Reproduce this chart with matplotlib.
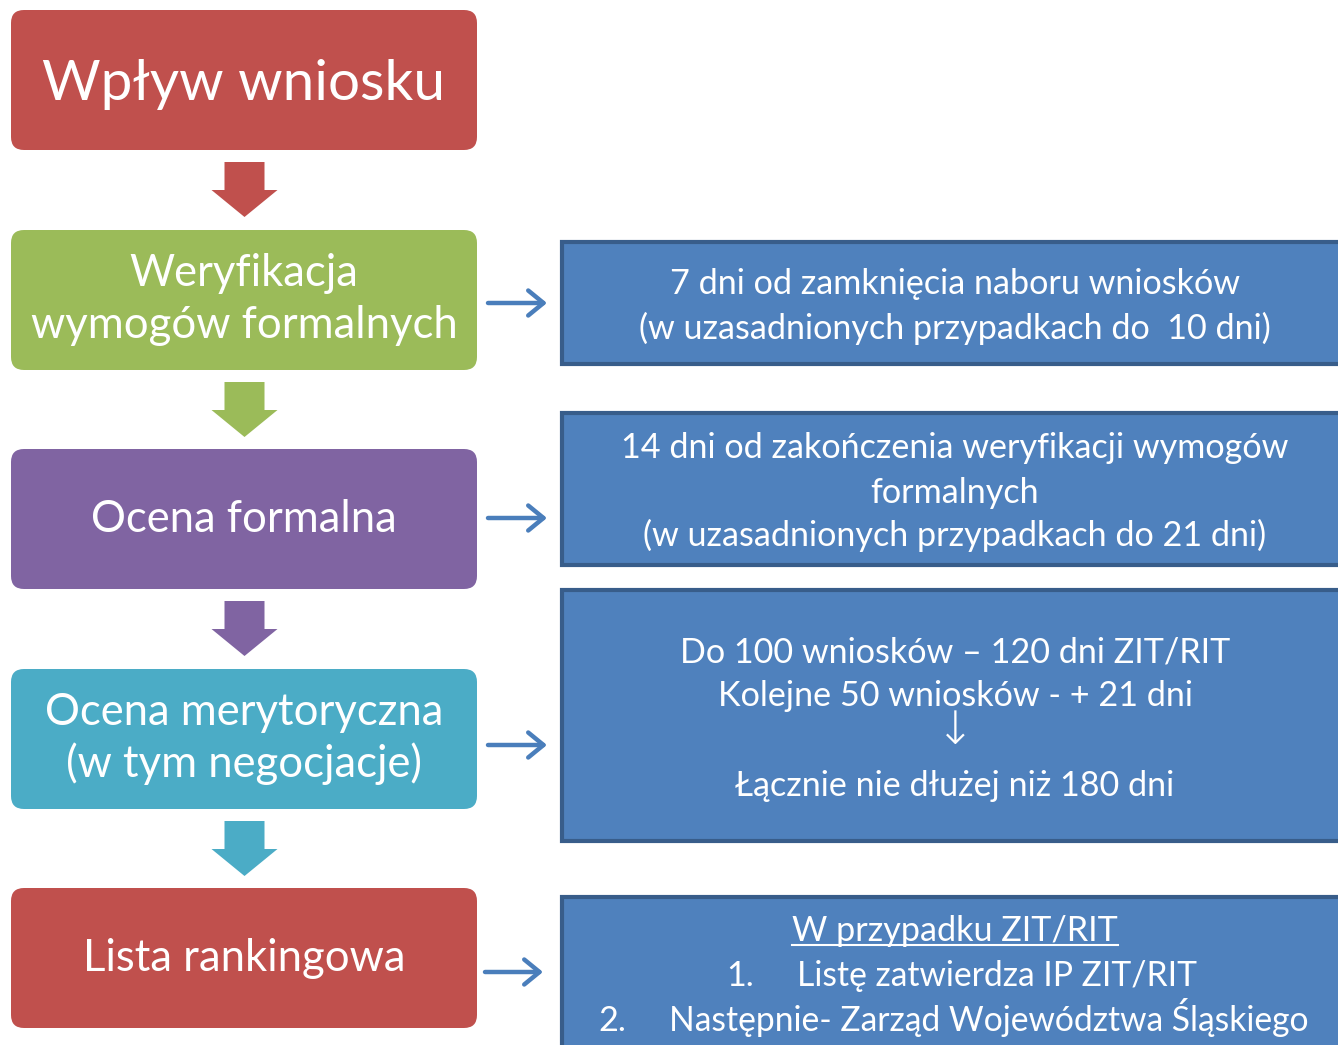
import matplotlib
matplotlib.use("Agg")
import matplotlib.pyplot as plt
from matplotlib.patches import FancyBboxPatch, Rectangle, Polygon, FancyArrowPatch
import numpy as np

plt.rcParams['font.family'] = ['Lato', 'DejaVu Sans']

# ---- content ----
step_labels = [["Wpływ wniosku"],
               ["Weryfikacja", "wymogów formalnych"],
               ["Ocena formalna"],
               ["Ocena merytoryczna", "(w tym negocjacje)"],
               ["Lista rankingowa"]]
step_colors = ["#C0504D", "#9BBB59", "#8064A2", "#4BACC6", "#C0504D"]

note_lines = [["7 dni od zamknięcia naboru wniosków",
               "(w uzasadnionych przypadkach do  10 dni)"],
              ["14 dni od zakończenia weryfikacji wymogów",
               "formalnych",
               "(w uzasadnionych przypadkach do 21 dni)"],
              ["Do 100 wniosków – 120 dni ZIT/RIT",
               "Kolejne 50 wniosków - + 21 dni",
               "↓",
               "Łącznie nie dłużej niż 180 dni"]]
list_title = "W przypadku ZIT/RIT"
list_nums = ["1.", "2."]
list_items = ["Listę zatwierdza IP ZIT/RIT", "Następnie- Zarząd Województwa Śląskiego"]

# ---- layout (pixels) ----
W, H = 1338, 1045
step_x0, step_x1 = 11, 477
step_tops = [10, 230, 449, 669, 888]
step_h = 140
step_baselines = [[100], [286, 338], [532], [725, 777], [971]]
step_widths = [[403], [226, 427], [308], [400, 367], [321]]

arrow_tops = [162, 382, 601, 821]
note_x0 = 562
note_boxes = [(242, 364), (413, 565), (590, 841), (897, 1060)]
note_baselines = [[294, 339], [458, 503, 546], [662, 706, 741, 796]]
note_widths = [[575, 637], [668, 169, 629], [529, 466, None, 437]]
note_cx = 955
side_arrow_y = [303, 518, 745, 972]
side_arrow_x = [(488, 547), (488, 547), (488, 547), (485, 543)]

fig = plt.figure(figsize=(W / 100, H / 100), dpi=100)
ax = fig.add_axes([0, 0, 1, 1])
ax.set_xlim(0, W)
ax.set_ylim(H, 0)
ax.axis('off')
renderer = fig.canvas.get_renderer()


def size_for(s, width, base=30):
    t = ax.text(0, 0, s, fontsize=base)
    w = t.get_window_extent(renderer).width
    t.remove()
    return base * width / w


# left step boxes
sizes = []
for labels, widths in zip(step_labels, step_widths):
    sizes.append(np.median([size_for(s, w) for s, w in zip(labels, widths)]))
common = float(np.median(sizes[1:]))
for i, (labels, color, top) in enumerate(zip(step_labels, step_colors, step_tops)):
    ax.add_patch(FancyBboxPatch((step_x0, top), step_x1 - step_x0, step_h,
                                boxstyle="round,pad=0,rounding_size=13",
                                fc=color, ec='none'))
    fs = sizes[0] if i == 0 else common
    for s, yb in zip(labels, step_baselines[i]):
        ax.text((step_x0 + step_x1) / 2, yb, s, ha='center', va='baseline',
                color='white', fontsize=fs)

# block arrows between steps
cx = 244.5
for top, color in zip(arrow_tops, step_colors[:4]):
    pts = [(cx - 20, top), (cx + 20, top), (cx + 20, top + 28), (cx + 33, top + 28),
           (cx, top + 55), (cx - 33, top + 28), (cx - 20, top + 28)]
    ax.add_patch(Polygon(pts, closed=True, fc=color, ec='none'))

# right note boxes
for (y0, y1) in note_boxes:
    ax.add_patch(Rectangle((note_x0, y0), W + 20 - note_x0, y1 - y0,
                           fc="#4F81BD", ec="#385D8A", lw=3.0, clip_on=True))

all_sizes = []
for lines, widths in zip(note_lines, note_widths):
    for s, w in zip(lines, widths):
        if w:
            all_sizes.append(size_for(s, w))
nfs = float(np.median(all_sizes))
for lines, bases in zip(note_lines, note_baselines):
    for s, yb in zip(lines, bases):
        if s == "↓":
            ax.text(note_cx, yb + 3, s, ha='center', va='baseline', color='white',
                    fontsize=nfs * 1.35, family=['DejaVu Sans'], fontweight='light')
        else:
            ax.text(note_cx, yb, s, ha='center', va='baseline', color='white', fontsize=nfs)

# last box: underlined title and numbered list
t = ax.text(note_cx, 941, list_title, ha='center', va='baseline', color='white', fontsize=nfs)
bb = t.get_window_extent(renderer).transformed(ax.transData.inverted())
ax.plot([bb.x0, bb.x1], [945, 945], color='white', lw=1.5)
num_x = [726, 598]
item_x = [797, 669]
item_y = [986, 1031]
for n, s, nx, ix, yb in zip(list_nums, list_items, num_x, item_x, item_y):
    ax.text(nx, yb, n, ha='left', va='baseline', color='white', fontsize=nfs)
    ax.text(ix, yb, s, ha='left', va='baseline', color='white', fontsize=nfs * 0.985)

# small side arrows
for y, (x0, x1) in zip(side_arrow_y, side_arrow_x):
    ax.add_patch(FancyArrowPatch((x0, y), (x1, y), arrowstyle='->,head_length=0.55,head_width=0.45',
                                 mutation_scale=20, color="#4A7EBB", lw=3.2,
                                 shrinkA=0, shrinkB=0))

fig.savefig("out.png", dpi=100)
